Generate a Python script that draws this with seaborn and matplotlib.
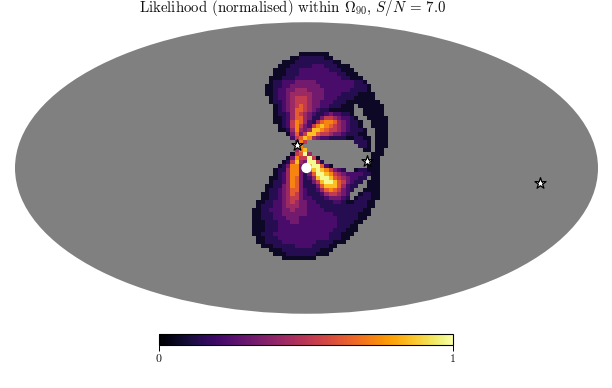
import numpy as np
import pandas as pd
import matplotlib
matplotlib.use("Agg")
import matplotlib.pyplot as plt
import seaborn as sns

sns.set_theme(style="white")
plt.rcParams["font.family"] = ["cmr10", "DejaVu Serif"]
plt.rcParams["mathtext.fontset"] = "cm"
plt.rcParams["axes.formatter.use_mathtext"] = True

TITLE = r"Likelihood (normalised) within $\Omega_{90}$, $S/N$ = 7.0"
cbar_ticks = [0, 1]
cbar_labels = ["0", "1"]

# Sky positions (degrees)
star_lon = [-6.2, 37.6, 145.0]
star_lat = [11.5, 3.5, -7.5]
peak_lon = [0.0]
peak_lat = [0.0]

# Likelihood value of each level used in the rows below
level_values = [0.07, 0.14, 0.22, 0.32, 0.42, 0.52, 0.63, 0.73, 0.85, 0.98]

# Likelihood: one row per band of sky, levels 0-9,
# '.' = outside the credible region
likelihood_rows = [
    "............0000000",
    "..........0011111100",
    "........00011111111100",
    ".......00011111222111000",
    "......0001112222222111000",
    "......00011122222222211000",
    ".....0001112222222222211000",
    ".....01122233333222222222110",
    "....0011223333333222222221110",
    "....0012233444333322222211110",
    "....00122344444333222211110000",
    ".....0122345554333222111100000",
    ".....01123455543322211100000000",
    "......0123456543322111000.000000",
    "......0123466543211000000..00000",
    "......0112465432112322110..00000",
    "......00124664311355432210..00000",
    "......001257642146776432110..0000",
    ".......01257532578765432110..0000",
    ".......001474348876554321110..000",
    ".........0363588655433211100..000",
    "..........2568743221111001100.000",
    "...........375...........1110.000",
    "...........27.............110.000",
    "...........478.............00.00",
    "..........05694..............000",
    ".........03755950............00",
    "........0158439951...........00",
    ".......0137732899620........000",
    "......01147732689875321..011000",
    "......0124773136998754322221100",
    ".....00124763124899865432211.00",
    ".....0112476311358998653211.000",
    "....0011347631113688864211..000",
    "....011234663211246765321..0000",
    "...001123465321112455432..01100",
    "...001123455322111233321.011100",
    "..0011223454332211112210011100",
    "..0111223444332221111111111100",
    ".0011222334333222211111111100",
    ".0011122333333222222111111000",
    ".001112223332222222221111100",
    ".00011122233222222222111100",
    ".0001112222222222222211100",
    ".0001112222222222222111000",
    ".001112222222222222111000",
    "..0011122222222222211100",
    "..001111222222221111000",
    "...000111112222111100",
    ".....000111111111000",
    "......0001111111000",
    "........00000000",
]

ncols = max(len(r) for r in likelihood_rows)
grid = pd.DataFrame(
    [[np.nan if c == "." else level_values[int(c)] for c in r.ljust(ncols, ".")]
     for r in likelihood_rows]
)

W, H = 612, 388
fig = plt.figure(figsize=(W / 100, H / 100), dpi=100, facecolor="white")

def box(x0, y0, x1, y1):
    return [x0 / W, 1 - y1 / H, (x1 - x0) / W, (y1 - y0) / H]

def moll(position, face):
    ax = fig.add_axes(position, projection="mollweide")
    ax.set_facecolor(face)
    ax.grid(False)
    ax.set_xticklabels([])
    ax.set_yticklabels([])
    ax.tick_params(length=0)
    for s in ax.spines.values():
        s.set_visible(False)
    return ax

MAP_BOX = box(15, 22, 598, 314)
base = moll(MAP_BOX, "#808080")
base.set_zorder(0)

heat = fig.add_axes(box(248, 52, 388, 260))
heat.set_zorder(1)
sns.heatmap(grid, ax=heat, mask=grid.isna(), cmap="inferno", vmin=0, vmax=1,
            cbar=False, xticklabels=False, yticklabels=False, square=False)
heat.patch.set_visible(False)
heat.set_xlabel("")
heat.set_ylabel("")

over = moll(MAP_BOX, "none")
over.set_zorder(2)
over.patch.set_visible(False)
sns.scatterplot(x=np.radians(peak_lon), y=np.radians(peak_lat), ax=over, s=55, marker="o",
                color="white", edgecolor="none", legend=False)
sns.scatterplot(x=np.radians(star_lon), y=np.radians(star_lat), ax=over, s=70, marker="*",
                color="white", edgecolor="black", linewidth=0.9, legend=False)
over.set_xlabel("")
over.set_ylabel("")

cax = fig.add_axes(box(159, 334, 453, 345))
cb = fig.colorbar(heat.collections[0], cax=cax, orientation="horizontal", ticks=cbar_ticks)
cb.ax.set_xticklabels(cbar_labels, fontsize=8.5, color="#111111")
cb.ax.tick_params(axis="x", bottom=True, length=4.5, width=0.7, color="black", pad=2)
cb.outline.set_edgecolor("black")
cb.outline.set_linewidth(0.8)

fig.text(292.5 / W, 1 - 12.5 / H, TITLE, ha="center", va="baseline", fontsize=10.7, color="#111111")

fig.savefig("out.png", dpi=100, facecolor="white")
